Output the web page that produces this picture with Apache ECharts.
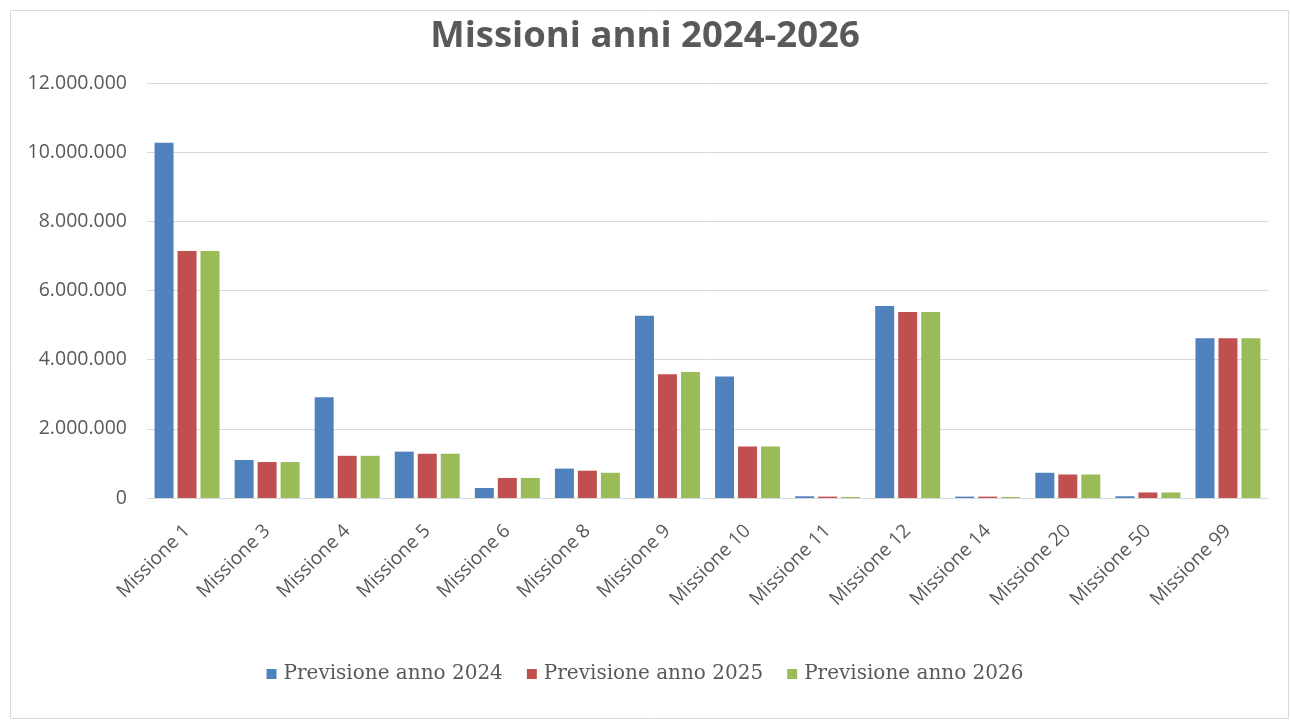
<!DOCTYPE html>
<html>
<head>
<meta charset="utf-8">
<script src="https://cdn.jsdelivr.net/npm/echarts@6/dist/echarts.min.js"></script>
<style>
  html, body { margin: 0; padding: 0; background: #ffffff; }
  #chart { width: 1290px; height: 720px; }
</style>
</head>
<body>
<div id="chart"></div>
<script>
// Mission categories and yearly forecasts (euro)
const categories = ['Missione 1', 'Missione 3', 'Missione 4', 'Missione 5', 'Missione 6', 'Missione 8', 'Missione 9',
  'Missione 10', 'Missione 11', 'Missione 12', 'Missione 14', 'Missione 20', 'Missione 50', 'Missione 99'];
const seriesNames = ['Previsione anno 2024', 'Previsione anno 2025', 'Previsione anno 2026'];
const prev2024 = [10270000, 1100000, 2910000, 1340000, 290000, 850000, 5270000, 3510000, 50000, 5550000, 40000, 730000, 50000, 4620000];
const prev2025 = [7140000, 1040000, 1220000, 1280000, 580000, 790000, 3580000, 1490000, 40000, 5380000, 40000, 680000, 160000, 4620000];
const prev2026 = [7140000, 1040000, 1220000, 1280000, 580000, 730000, 3640000, 1490000, 30000, 5380000, 30000, 680000, 160000, 4620000];
const yTicks = [0, 2000000, 4000000, 6000000, 8000000, 10000000, 12000000];

const colors = ['#4F81BD', '#C0504D', '#9BBB59'];
const values = [prev2024, prev2025, prev2026];

function fmtThousands(v) {
  return String(Math.round(v)).replace(/\B(?=(\d{3})+(?!\d))/g, '.');
}

const chart = echarts.init(document.getElementById('chart'));
chart.setOption({
  animation: false,
  backgroundColor: '#ffffff',
  color: colors,
  title: {
    text: 'Missioni anni 2024-2026',
    left: 'center',
    top: 13,
    textStyle: { fontFamily: 'Open Sans', fontWeight: 'bold', fontSize: 36.5, color: '#595959' }
  },
  graphic: [{
    type: 'rect',
    left: 8, top: 8,
    shape: { width: 1278, height: 708 },
    style: { fill: 'none', stroke: '#D9D9D9', lineWidth: 1 },
    silent: true
  }],
  legend: {
    bottom: 31,
    left: 'center',
    itemWidth: 10,
    itemHeight: 10,
    itemGap: 24,
    icon: 'rect',
    textStyle: { fontFamily: 'DejaVu Serif', fontSize: 20, color: '#595959', padding: [0, 0, 0, 2] },
    data: seriesNames
  },
  grid: { left: 147, right: 22, top: 83, bottom: 222, containLabel: false },
  xAxis: {
    type: 'category',
    data: categories,
    axisLine: { lineStyle: { color: '#D9D9D9', width: 1 } },
    axisTick: { show: false },
    axisLabel: {
      rotate: 45,
      margin: 30,
      fontFamily: 'Open Sans',
      fontSize: 19,
      color: '#595959',
      interval: 0
    }
  },
  yAxis: {
    type: 'value',
    min: yTicks[0],
    max: yTicks[yTicks.length - 1],
    interval: yTicks[1] - yTicks[0],
    axisLine: { show: false },
    axisTick: { show: false },
    splitLine: { lineStyle: { color: '#D9D9D9', width: 1 } },
    axisLabel: {
      margin: 20,
      fontFamily: 'Open Sans',
      fontSize: 19.5,
      color: '#595959',
      formatter: fmtThousands
    }
  },
  series: seriesNames.map((name, i) => ({
    name: name,
    type: 'bar',
    data: values[i],
    barWidth: 19,
    barGap: '21%',
    itemStyle: { color: colors[i] }
  }))
});
</script>
</body>
</html>
